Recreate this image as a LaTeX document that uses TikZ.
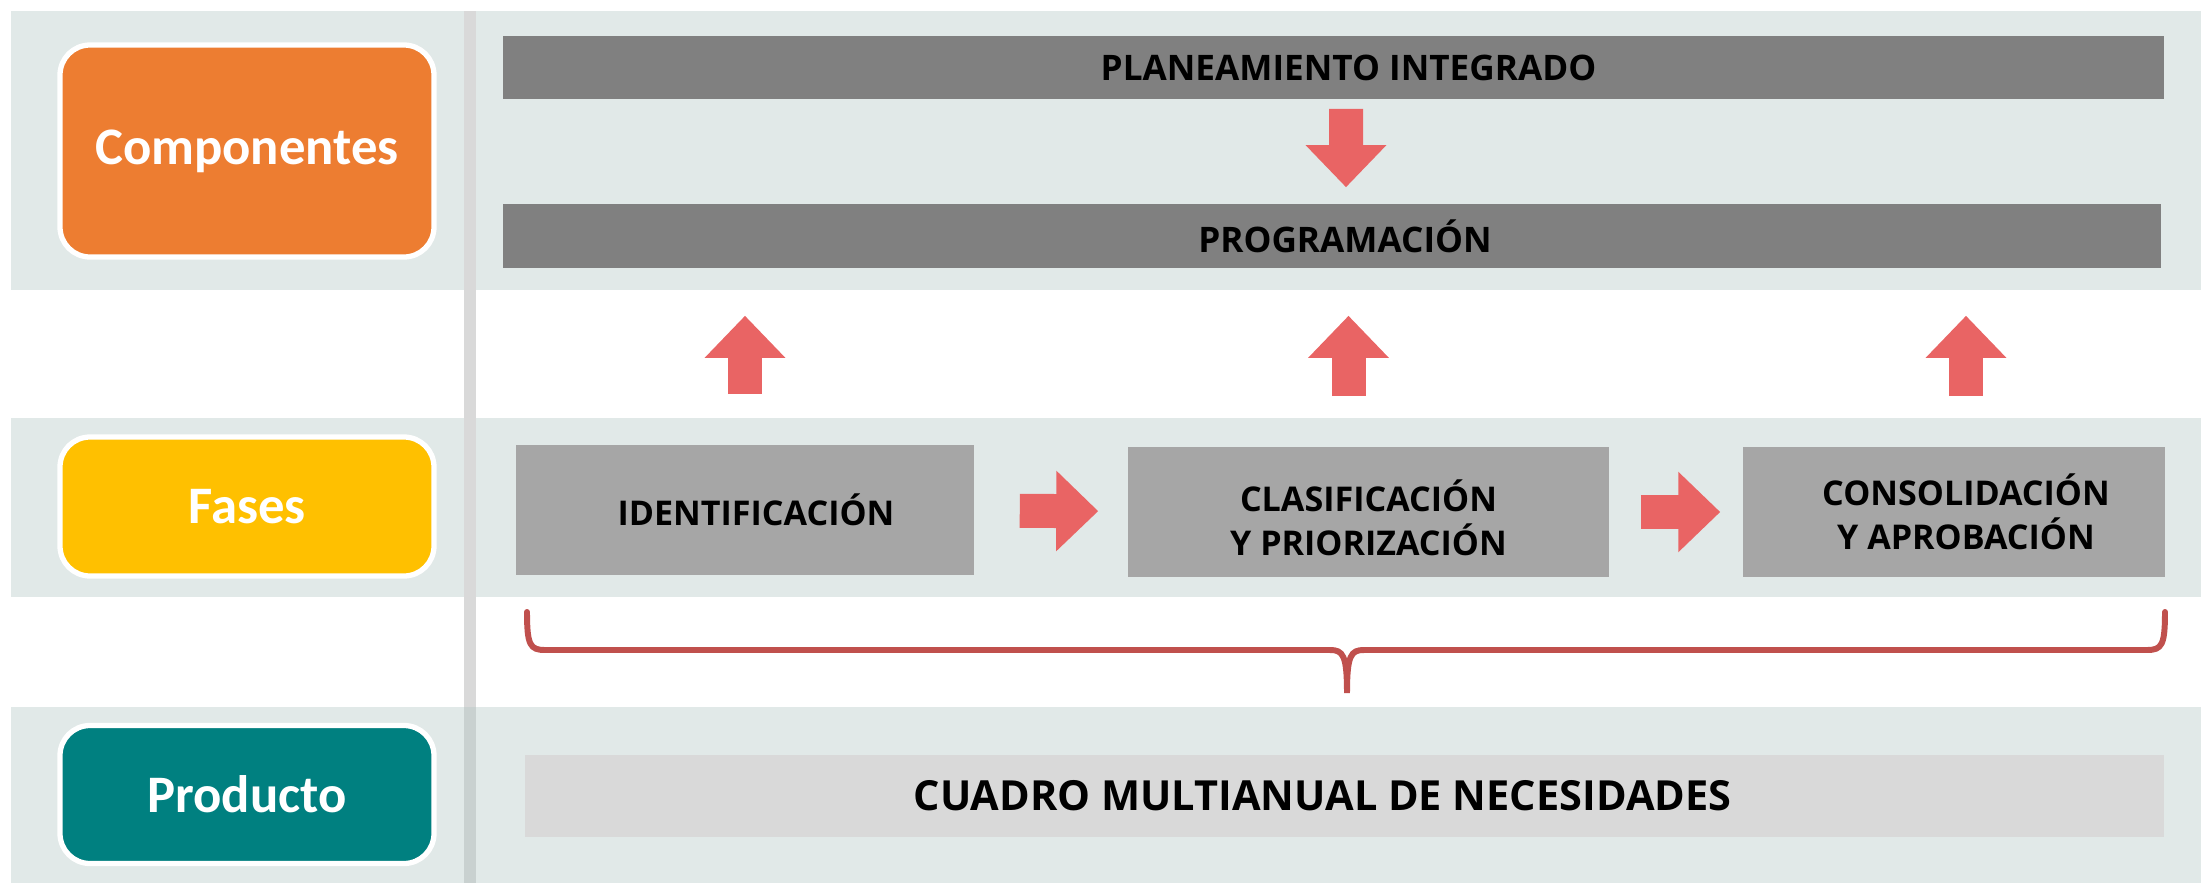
\documentclass[tikz,border=0pt]{standalone}
\usepackage{fontspec}
\setmainfont{Open Sans}
\newfontfamily\rowfont{Carlito}
\usetikzlibrary{arrows.meta}

\definecolor{bandcol}{RGB}{225,233,232}
\definecolor{sepgray}{RGB}{217,217,217}
\definecolor{sepdark}{RGB}{201,209,208}
\definecolor{compcol}{RGB}{237,125,49}
\definecolor{fasecol}{RGB}{255,192,0}
\definecolor{prodcol}{RGB}{0,128,128}
\definecolor{bargray}{RGB}{128,128,128}
\definecolor{phasegray}{RGB}{166,166,166}
\definecolor{cuadrogray}{RGB}{217,217,217}
\definecolor{arrowred}{RGB}{233,100,100}
\definecolor{bracered}{RGB}{192,80,77}

\tikzset{
every picture/.style={
line width=1pt
},
rowlabel/.style={rounded corners=0.3cm, draw=white, line width=1.5pt, minimum width=3.74cm, text=white, font=\rowfont\bfseries\fontsize{15}{18}\selectfont},
bar/.style={fill=bargray, font=\bfseries\fontsize{10}{12}\selectfont},
phase/.style={fill=phasegray, minimum height=1.30cm, align=center, font=\bfseries\fontsize{9.7}{12.5}\selectfont},
bigarrow/.style={arrowred, line width=0.34cm, -{Triangle[length=4.2mm,width=7.8mm]}}
}

\begin{document}
\begin{tikzpicture}[y=-1cm]
\useasboundingbox (0,0) rectangle (22.01,8.83);

\fill[bandcol] (0.11,0.11) rectangle (22.01,2.90);
\fill[bandcol] (0.11,4.18) rectangle (22.01,5.97);
\fill[bandcol] (0.11,7.07) rectangle (22.01,8.83);
\fill[sepgray] (4.64,0.11) rectangle (4.76,8.83);
\fill[sepdark] (4.64,7.07) rectangle (4.76,8.83);

\node[rowlabel, fill=compcol, minimum height=2.12cm] (comp) at (2.47,1.51) {Componentes};
\node[rowlabel, fill=fasecol, minimum height=1.39cm] (fases) at (2.47,5.065) {Fases};
\node[rowlabel, fill=prodcol, minimum height=1.38cm] (prod) at (2.47,7.945) {Producto};

\node[bar, minimum width=16.61cm, minimum height=0.63cm] (plan) at (13.335,0.675) {\hspace{0.3cm}PLANEAMIENTO INTEGRADO};
\node[bar, minimum width=16.58cm, minimum height=0.64cm] (prog) at (13.32,2.36) {\hspace{0.26cm}PROGRAMACIÓN};

\node[phase, minimum width=4.58cm] (ident) at (7.45,5.10) {\hspace{0.22cm}IDENTIFICACIÓN};
\node[phase, minimum width=4.81cm] (clasif) at (13.685,5.12) {\rule{0pt}{0.44cm}CLASIFICACIÓN\\Y PRIORIZACIÓN};
\node[phase, minimum width=4.22cm] (consol) at (19.54,5.12) {\hspace{0.24cm}CONSOLIDACIÓN\\\hspace{0.24cm}Y APROBACIÓN};

\node[fill=cuadrogray, minimum width=16.39cm, minimum height=0.82cm, font=\bfseries\fontsize{11.8}{14}\selectfont] (cuadro) at (13.445,7.96) {CUADRO MULTIANUAL DE NECESIDADES\hspace*{0.44cm}\null};

\draw[bigarrow, shorten <=0.8mm, shorten >=1.5mm] ([xshift=1.25mm]plan.south) -- ([xshift=1.4mm]prog.north);
\foreach \n/\dx in {ident/0, clasif/-2, consol/1.2}{
  \coordinate (t\n) at ([xshift=\dx mm]\n.north);
  \draw[bigarrow, shorten <=4.9mm, shorten >=4.6mm] (t\n) -- (t\n |- prog.south);
}
\draw[bigarrow, shorten <=4.4mm, shorten >=2.8mm] (ident) -- (clasif);
\draw[bigarrow, shorten <=3.0mm, shorten >=2.1mm] (clasif) -- (consol);

\coordinate (bl) at (5.27,6.12);
\coordinate (br) at (21.65,6.12);
\draw[bracered, line width=1.7pt, line cap=round] (bl) .. controls (5.27,6.45) and (5.30,6.50) .. (5.45,6.50) -- (13.30,6.50) .. controls (13.43,6.50) and (13.47,6.55) .. (13.47,6.93) .. controls (13.47,6.55) and (13.51,6.50) .. (13.64,6.50) -- (21.47,6.50) .. controls (21.62,6.50) and (21.65,6.45) .. (br);

\end{tikzpicture}
\end{document}
